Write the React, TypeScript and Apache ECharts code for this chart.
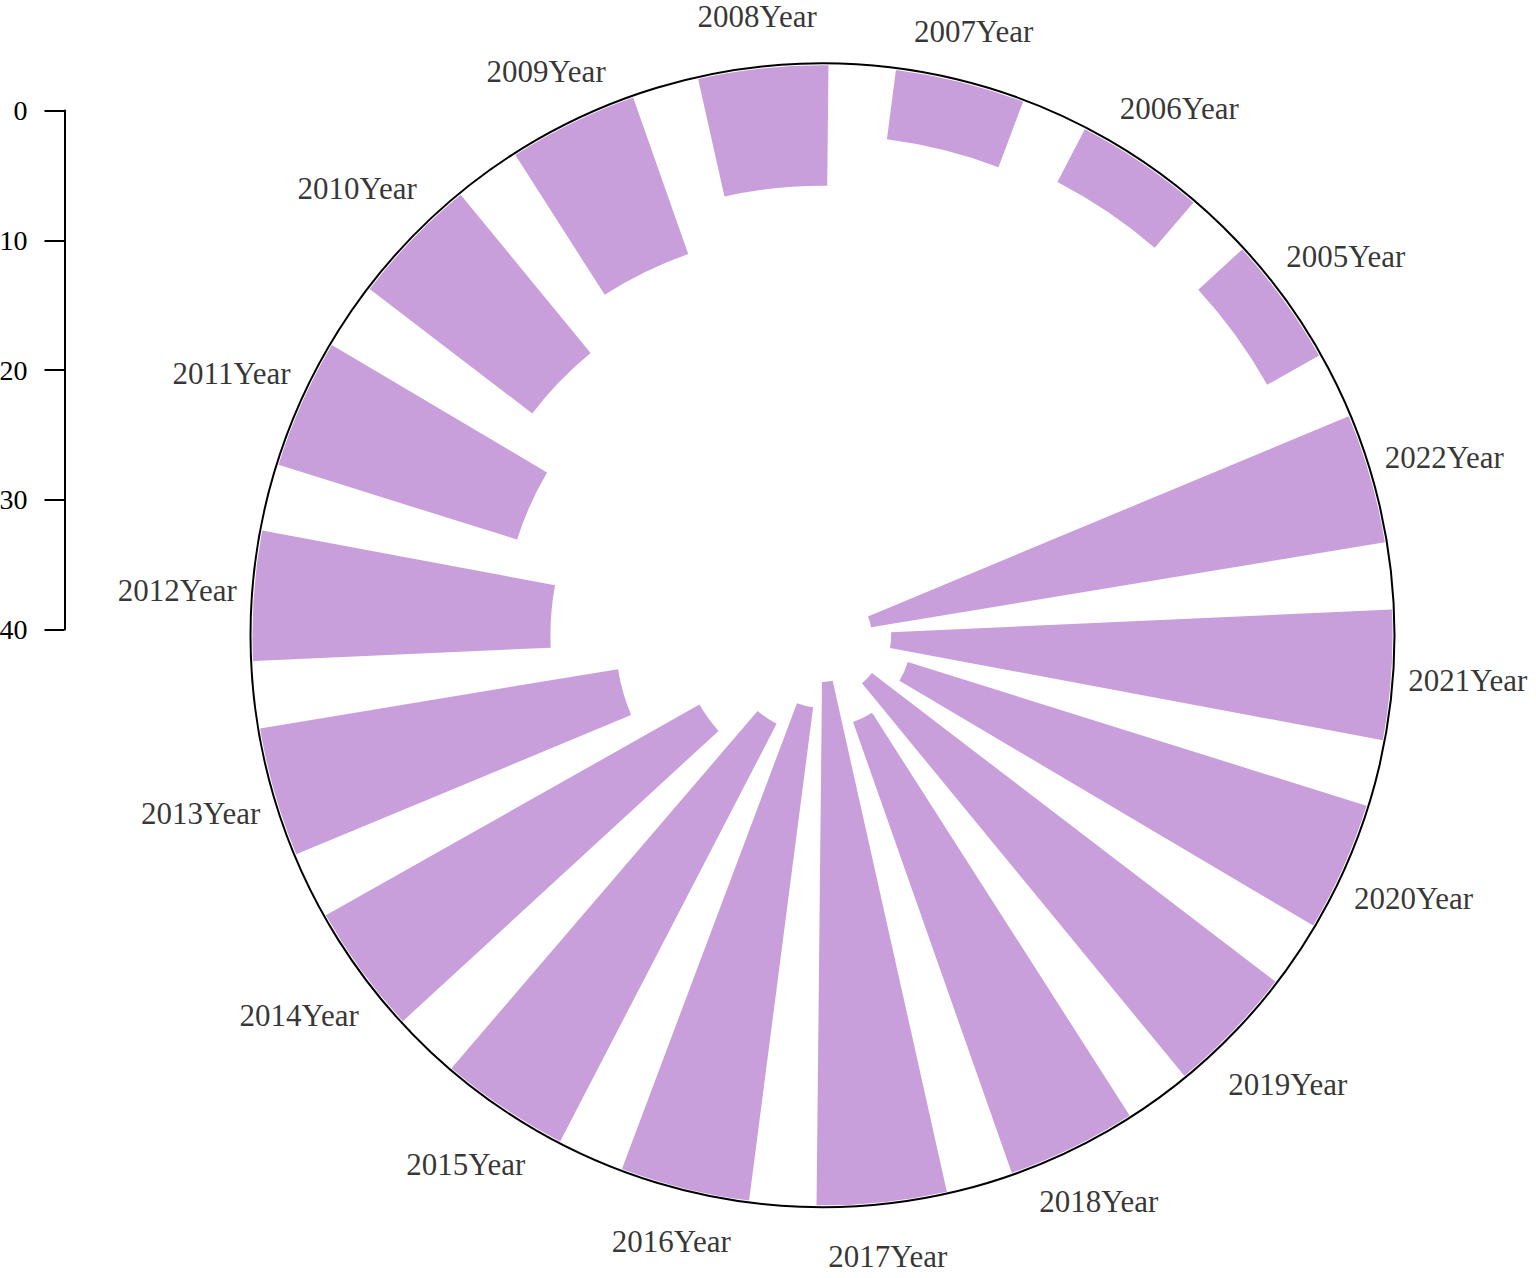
import React, { useEffect, useRef } from "react";
import * as echarts from "echarts";

const years = [
  "2005Year", "2006Year", "2007Year", "2008Year", "2009Year", "2010Year",
  "2011Year", "2012Year", "2013Year", "2014Year", "2015Year", "2016Year",
  "2017Year", "2018Year", "2019Year", "2020Year", "2021Year", "2022Year",
];
const values = [
  4.6, 4.6, 5.4, 9.3, 12.8, 15.8,
  19.3, 23.0, 28.0, 33.1, 36.3, 38.4,
  40.4, 36.9, 39.2, 37.1, 38.7, 40.2,
];
const scaleMin = 0;
const scaleMax = 40;
const scaleInterval = 10;

const START_ANGLE = 26;
const BAND = 360 / years.length;
const LABEL_RADIUS_VALUE = -4;
const FONT = "'Liberation Serif', 'Times New Roman', serif";

function labelShift(i: number) {
  const th = ((START_ANGLE + BAND / 2 + BAND * i) * Math.PI) / 180;
  const c = Math.cos(th);
  const s = Math.sin(th);
  const t = Math.max(0, Math.min(1, (Math.abs(c) - 0.35) / 0.35));
  const extra = 3 + 22 * t;
  return { dx: extra * c, dy: -extra * s + 3 * Math.max(0, s) };
}

export default function App() {
  const ref = useRef<HTMLDivElement>(null);
  useEffect(() => {
    if (!ref.current) return;
    const chart = echarts.init(ref.current, undefined, { renderer: "svg" });
    chart.setOption({
      animation: false,
      backgroundColor: "#ffffff",
      polar: { center: [822.5, 635.3], radius: 572 },
      angleAxis: {
        type: "category",
        data: years,
        startAngle: START_ANGLE,
        clockwise: false,
        axisLine: { show: true, lineStyle: { color: "#000", width: 2 } },
        axisTick: { show: false },
        axisLabel: { show: false },
        splitLine: { show: false },
      },
      radiusAxis: {
        type: "value",
        min: -0.15,
        max: 44,
        inverse: true,
        axisLine: { show: false },
        axisTick: { show: false },
        axisLabel: { show: false },
        splitLine: { show: false },
      },
      grid: {
        left: 64.5,
        top: 110.5,
        width: 10,
        height: 519,
        containLabel: false,
        outerBoundsMode: "none",
      },
      xAxis: { type: "value", show: false, min: 0, max: 1 },
      yAxis: {
        type: "value",
        min: scaleMin,
        max: scaleMax,
        interval: scaleInterval,
        inverse: true,
        position: "left",
        axisLine: { show: true, lineStyle: { color: "#000", width: 2 } },
        axisTick: { show: true, length: 20, lineStyle: { color: "#000", width: 2 } },
        axisLabel: {
          color: "#000",
          fontFamily: FONT,
          fontSize: 28,
          margin: 37,
        },
        splitLine: { show: false },
      },
      series: [
        {
          type: "bar",
          coordinateSystem: "polar",
          data: values,
          barWidth: "66%",
          itemStyle: { color: "#C89FDB" },
          silent: true,
        },
        {
          type: "scatter",
          coordinateSystem: "polar",
          data: years.map((y) => [LABEL_RADIUS_VALUE, y]),
          symbolSize: 1,
          clip: false,
          itemStyle: { color: "rgba(0,0,0,0)" },
          label: {
            show: true,
            position: "inside",
            formatter: (p: any) => p.value[1],
            color: "#000",
            fontFamily: FONT,
            fontSize: 31,
          },
          labelLayout: (p: any) => labelShift(p.dataIndex),
          silent: true,
        },
      ],
    });
    return () => chart.dispose();
  }, []);
  return (
    <div
      ref={ref}
      style={{ position: "fixed", left: 0, top: 0, width: 1536, height: 1278 }}
    />
  );
}
